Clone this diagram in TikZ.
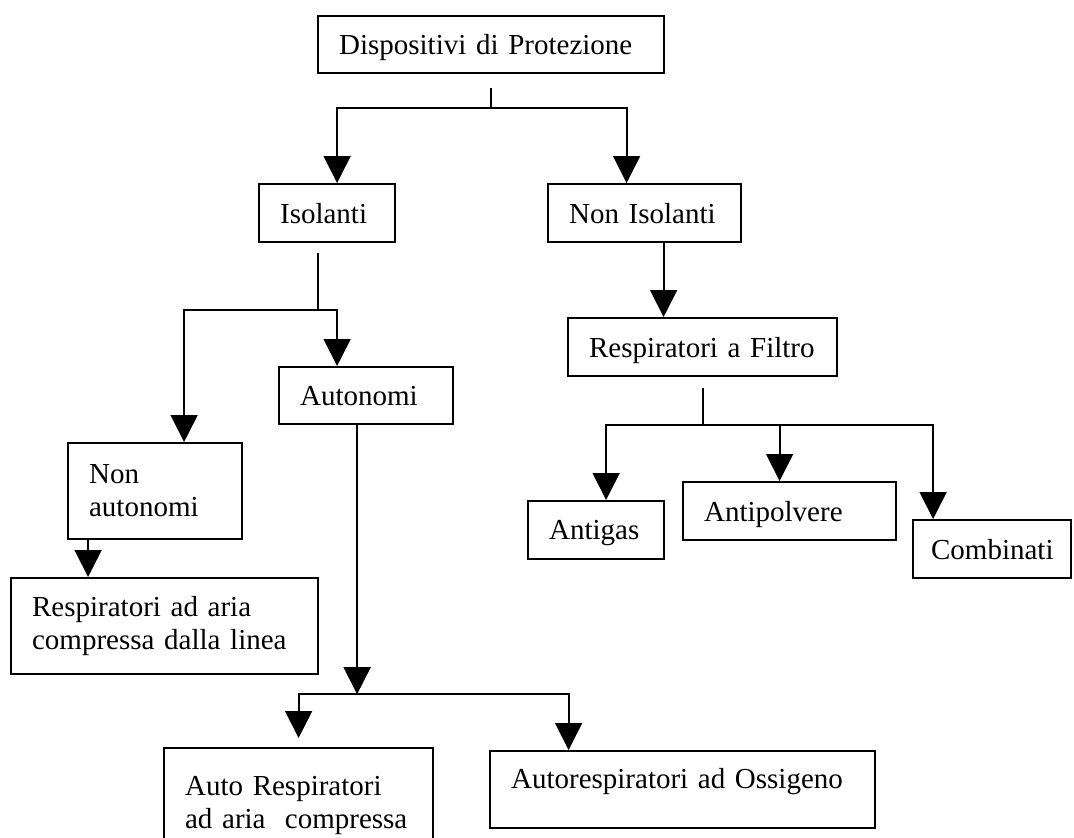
\documentclass[tikz,border=0pt]{standalone}
\usepackage{fontspec}
\setmainfont{Liberation Serif}
\usetikzlibrary{arrows.meta, positioning, calc}

\begin{document}
\begin{tikzpicture}[
    x=1pt, y=-1pt,
    boxbase/.style={draw, line width=2.2pt, anchor=north west, align=left, inner xsep=21pt, inner ysep=0pt},
    block/.style={boxbase, minimum height=58pt, text depth=0pt},
    tall/.style={boxbase, minimum height=96pt},
    line/.style={line width=1.8pt},
    arr/.style={line, -{Triangle[width=27pt,length=27pt]}},
    font=\fontsize{29pt}{33pt}\selectfont,
]
    \useasboundingbox (0,0) rectangle (1074,838);

    \node[block, text width=304pt, minimum height=57pt] (dev)      at (317,15)  {Dispositivi di Protezione};
    \node[block, text width=94pt]                       (iso)      at (258,183) {Isolanti};
    \node[block, text width=151pt]                      (noniso)   at (547,183) {Non Isolanti};
    \node[block, text width=227pt]                      (filtro)   at (567,317) {Respiratori a Filtro};
    \node[block, text width=132pt, minimum height=57pt] (auton)    at (278,366) {Autonomi};
    \node[tall,  text width=132pt]                      (nonaut)   at (67,442)  {Non\\autonomi};
    \node[tall,  text width=265pt]                      (linea)    at (10,577)  {Respiratori ad aria\\compressa dalla linea};
    \node[block, text width=94pt]                       (antigas)  at (527,500) {Antigas};
    \node[block, text width=171pt]                      (antipolv) at (682,481) {Antipolvere};
    \node[block, text width=122pt, inner xsep=18pt]     (combi)    at (912,519) {Combinati};
    \node[tall,  text width=227pt, minimum height=115pt] (autoaria) at (163,747) {Auto Respiratori\\ad aria\ \ compressa};
    \node[block, text width=343pt, minimum height=77pt, text depth=22pt] (ossigeno) at (489,750) {Autorespiratori ad Ossigeno};

    \coordinate (j1) at ([yshift=-34pt]dev.south);
    \coordinate (j2) at ([xshift=-9pt, yshift=-67pt]iso.south);
    \coordinate (j3) at ([xshift=-9pt, yshift=-269pt]auton.south);
    \coordinate (j4) at ([yshift=-48pt]filtro.south);

    \draw[line] ([yshift=-14pt]dev.south) -- (j1);
    \draw[arr]  (j1) -| ([xshift=10pt]iso.north);
    \draw[arr]  (j1) -| ([xshift=-18pt]noniso.north);

    \draw[line] ([xshift=-9pt, yshift=-10pt]iso.south) -- (j2);
    \draw[arr]  (j2) -| ([xshift=-29pt]auton.north);
    \draw[arr]  (j2) -| ([xshift=29pt]nonaut.north);
    \draw[arr]  ([xshift=-67pt]nonaut.south) -- ([xshift=-67pt]nonaut.south |- linea.north);

    \draw[arr]  ([xshift=-9pt]auton.south) -- (j3);
    \draw[arr]  (j3) -| ([yshift=9pt]autoaria.north);
    \draw[arr]  (j3) -| ([xshift=-114pt]ossigeno.north);

    \draw[arr]  ([xshift=19pt]noniso.south) -- ([xshift=19pt]noniso.south |- filtro.north);
    \draw[line] ([yshift=-11pt]filtro.south) -- (j4);
    \draw[arr]  (j4) -| ([xshift=10pt]antigas.north);
    \draw[arr]  (j4) -| ([xshift=-10pt]antipolv.north);
    \draw[arr]  (j4) -| ([xshift=-59pt]combi.north);
\end{tikzpicture}
\end{document}
